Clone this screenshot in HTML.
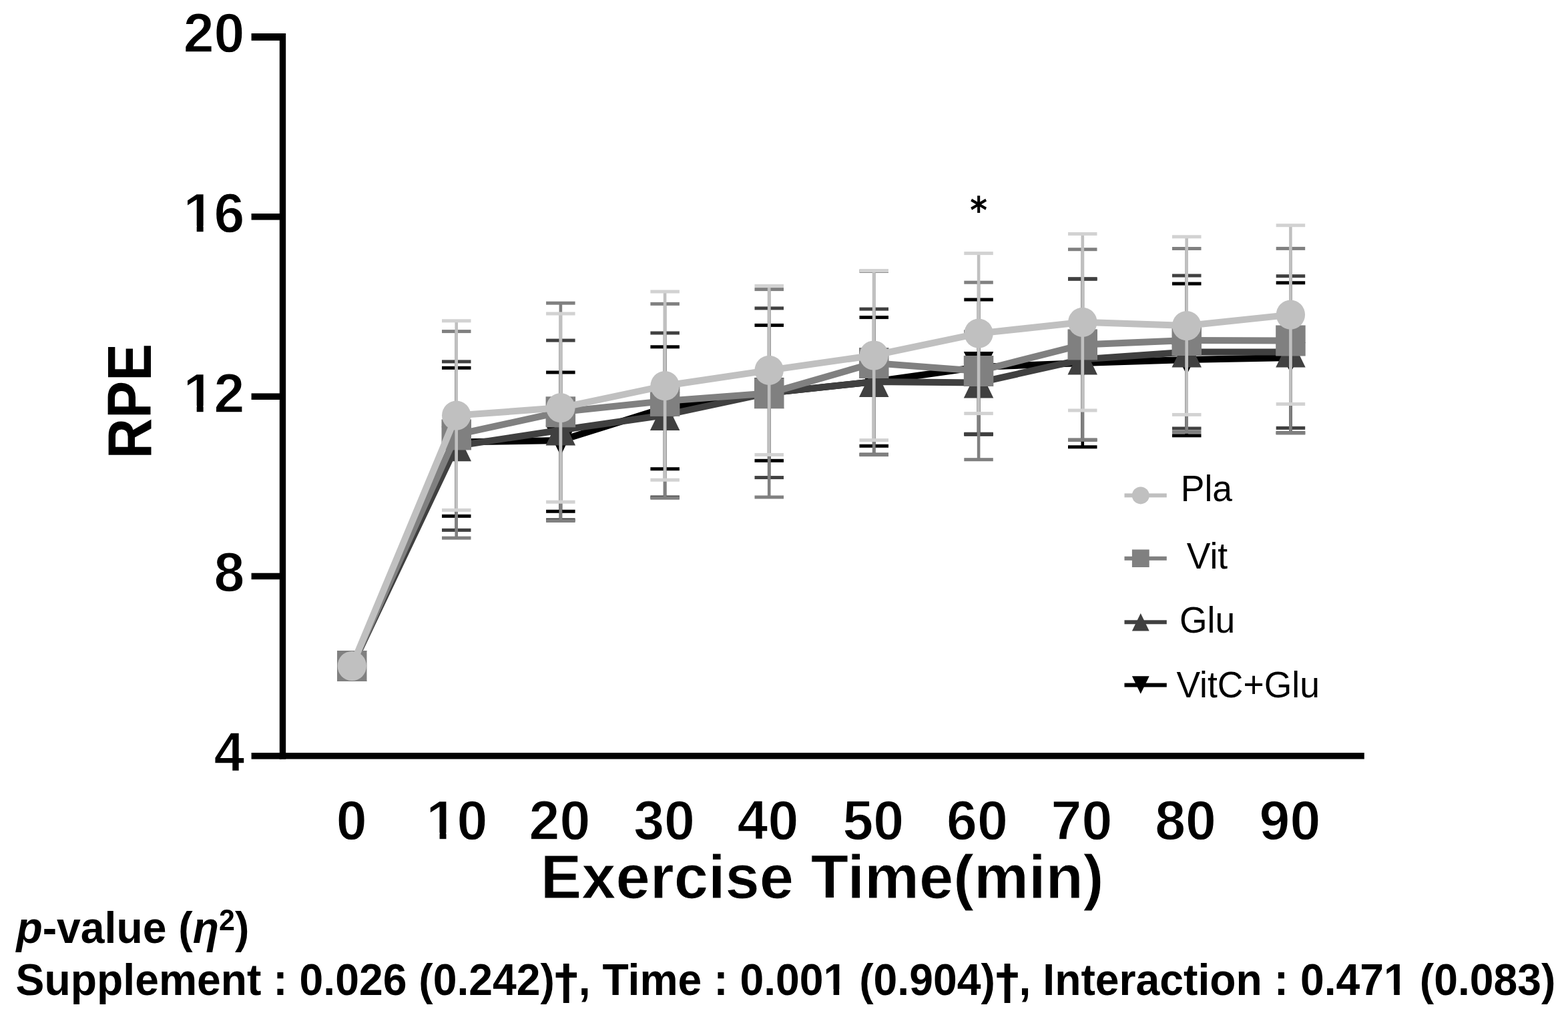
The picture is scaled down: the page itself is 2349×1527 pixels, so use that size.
<!DOCTYPE html>
<html><head><meta charset="utf-8"><title>RPE chart</title>
<style>
html,body{margin:0;padding:0;background:#fff;}
svg{display:block;}
text{font-family:"Liberation Sans",Arial,sans-serif;fill:#000;}
.b{font-weight:bold;}
.e1{stroke:#fff;stroke-width:1.3px;}
.e2{stroke:#fff;stroke-width:1.0px;}
.r{font-weight:normal;}
</style></head>
<body>
<svg width="2349" height="1527" viewBox="0 0 2349 1527">
<rect width="2349" height="1527" fill="#fff"/>
<rect x="418.8" y="50" width="9.4" height="1087.6" fill="#000"/>
<rect x="418.8" y="1128" width="1625" height="9.5" fill="#000"/>
<rect x="376.6" y="50" width="45" height="10.8" fill="#000"/>
<rect x="376.6" y="320" width="45" height="9.6" fill="#000"/>
<rect x="376.6" y="589.4" width="45" height="9.6" fill="#000"/>
<rect x="376.6" y="858.7" width="45" height="9.6" fill="#000"/>
<rect x="376.6" y="1128" width="45" height="9.6" fill="#000"/>
<g><text x="366.5" y="78.1" class="b e1" font-size="82.5" text-anchor="end">20</text></g>
<g><text x="366.5" y="348.3" class="b e1" font-size="82.5" text-anchor="end">16</text><rect x="278.43" y="338.38" width="16.26" height="11.42" fill="#fff"/><rect x="304.61" y="338.38" width="15.21" height="11.42" fill="#fff"/></g>
<g><text x="366.5" y="617.7" class="b e1" font-size="82.5" text-anchor="end">12</text><rect x="278.43" y="607.78" width="16.26" height="11.42" fill="#fff"/><rect x="304.61" y="607.78" width="15.21" height="11.42" fill="#fff"/></g>
<g><text x="366.5" y="886.4" class="b e1" font-size="82.5" text-anchor="end">8</text></g>
<g><text x="366.5" y="1156" class="b e1" font-size="82.5" text-anchor="end">4</text></g>
<g><text x="526.8" y="1257.6" class="b e1" font-size="82.5" text-anchor="middle">0</text></g>
<g><text x="684.5" y="1257.6" class="b e1" font-size="82.5" text-anchor="middle">10</text><rect x="642.31" y="1247.68" width="16.26" height="11.42" fill="#fff"/><rect x="668.49" y="1247.68" width="15.21" height="11.42" fill="#fff"/></g>
<g><text x="838.5" y="1257.6" class="b e1" font-size="82.5" text-anchor="middle">20</text></g>
<g><text x="995.1" y="1257.6" class="b e1" font-size="82.5" text-anchor="middle">30</text></g>
<g><text x="1150.4" y="1257.6" class="b e1" font-size="82.5" text-anchor="middle">40</text></g>
<g><text x="1308.3" y="1257.6" class="b e1" font-size="82.5" text-anchor="middle">50</text></g>
<g><text x="1463.9" y="1257.6" class="b e1" font-size="82.5" text-anchor="middle">60</text></g>
<g><text x="1620.4" y="1257.6" class="b e1" font-size="82.5" text-anchor="middle">70</text></g>
<g><text x="1776.1" y="1257.6" class="b e1" font-size="82.5" text-anchor="middle">80</text></g>
<g><text x="1932.4" y="1257.6" class="b e1" font-size="82.5" text-anchor="middle">90</text></g>
<text class="b" font-size="84" transform="translate(225.7,687.6) rotate(-90) scale(1,1.095)">RPE</text>
<text class="b e2" x="809.8" y="1345.5" font-size="92.2">Exercise Time(min)</text>
<line x1="683.7" y1="551.3" x2="683.7" y2="773.4" stroke="#000000" stroke-width="4.6"/>
<rect x="662" y="548.8" width="43.5" height="5" fill="#000000"/>
<rect x="662" y="770.9" width="43.5" height="5" fill="#000000"/>
<line x1="839.9" y1="558" x2="839.9" y2="766.3" stroke="#000000" stroke-width="4.6"/>
<rect x="818.1" y="555.5" width="43.5" height="5" fill="#000000"/>
<rect x="818.1" y="763.8" width="43.5" height="5" fill="#000000"/>
<line x1="996.1" y1="519.8" x2="996.1" y2="702.7" stroke="#000000" stroke-width="4.6"/>
<rect x="974.4" y="517.3" width="43.5" height="5" fill="#000000"/>
<rect x="974.4" y="700.2" width="43.5" height="5" fill="#000000"/>
<line x1="1152.2" y1="487.4" x2="1152.2" y2="690.3" stroke="#000000" stroke-width="4.6"/>
<rect x="1130.5" y="484.9" width="43.5" height="5" fill="#000000"/>
<rect x="1130.5" y="687.8" width="43.5" height="5" fill="#000000"/>
<line x1="1309.2" y1="475.6" x2="1309.2" y2="668.3" stroke="#000000" stroke-width="4.6"/>
<rect x="1287.5" y="473.1" width="43.5" height="5" fill="#000000"/>
<rect x="1287.5" y="665.8" width="43.5" height="5" fill="#000000"/>
<line x1="1466.1" y1="449" x2="1466.1" y2="651" stroke="#000000" stroke-width="4.6"/>
<rect x="1444.3" y="446.5" width="43.5" height="5" fill="#000000"/>
<rect x="1444.3" y="648.5" width="43.5" height="5" fill="#000000"/>
<line x1="1621.8" y1="418" x2="1621.8" y2="669.8" stroke="#000000" stroke-width="4.6"/>
<rect x="1600" y="415.5" width="43.5" height="5" fill="#000000"/>
<rect x="1600" y="667.3" width="43.5" height="5" fill="#000000"/>
<line x1="1777.7" y1="425.1" x2="1777.7" y2="652.8" stroke="#000000" stroke-width="4.6"/>
<rect x="1756" y="422.6" width="43.5" height="5" fill="#000000"/>
<rect x="1756" y="650.3" width="43.5" height="5" fill="#000000"/>
<line x1="1933.4" y1="423.8" x2="1933.4" y2="648.7" stroke="#000000" stroke-width="4.6"/>
<rect x="1911.7" y="421.3" width="43.5" height="5" fill="#000000"/>
<rect x="1911.7" y="646.2" width="43.5" height="5" fill="#000000"/>
<polyline points="527.3,998 683.7,662.4 839.9,660 996.1,611.2 1152.2,588.9 1309.2,572 1466.1,550 1621.8,544 1777.7,539 1933.4,536" fill="none" stroke="#000000" stroke-width="10" stroke-linejoin="miter"/>
<polygon points="505,975 549.5,975 527.3,1021" fill="#000000"/>
<polygon points="661.5,639.4 706,639.4 683.7,685.4" fill="#000000"/>
<polygon points="817.6,637 862.1,637 839.9,683" fill="#000000"/>
<polygon points="973.9,588.2 1018.4,588.2 996.1,634.2" fill="#000000"/>
<polygon points="1130,565.9 1174.5,565.9 1152.2,611.9" fill="#000000"/>
<polygon points="1287,549 1331.5,549 1309.2,595" fill="#000000"/>
<polygon points="1443.8,527 1488.3,527 1466.1,573" fill="#000000"/>
<polygon points="1599.5,521 1644,521 1621.8,567" fill="#000000"/>
<polygon points="1755.5,516 1800,516 1777.7,562" fill="#000000"/>
<polygon points="1911.2,513 1955.7,513 1933.4,559" fill="#000000"/>
<line x1="683.7" y1="541.9" x2="683.7" y2="794.4" stroke="#404040" stroke-width="4.6"/>
<rect x="662" y="539.4" width="43.5" height="5" fill="#404040"/>
<rect x="662" y="791.9" width="43.5" height="5" fill="#404040"/>
<line x1="839.9" y1="510.1" x2="839.9" y2="779" stroke="#404040" stroke-width="4.6"/>
<rect x="818.1" y="507.6" width="43.5" height="5" fill="#404040"/>
<rect x="818.1" y="776.5" width="43.5" height="5" fill="#404040"/>
<line x1="996.1" y1="499" x2="996.1" y2="745" stroke="#404040" stroke-width="4.6"/>
<rect x="974.4" y="496.5" width="43.5" height="5" fill="#404040"/>
<rect x="974.4" y="742.5" width="43.5" height="5" fill="#404040"/>
<line x1="1152.2" y1="461.9" x2="1152.2" y2="715.6" stroke="#404040" stroke-width="4.6"/>
<rect x="1130.5" y="459.4" width="43.5" height="5" fill="#404040"/>
<rect x="1130.5" y="713.1" width="43.5" height="5" fill="#404040"/>
<line x1="1309.2" y1="463.1" x2="1309.2" y2="681" stroke="#404040" stroke-width="4.6"/>
<rect x="1287.5" y="460.6" width="43.5" height="5" fill="#404040"/>
<rect x="1287.5" y="678.5" width="43.5" height="5" fill="#404040"/>
<line x1="1466.1" y1="497" x2="1466.1" y2="650.2" stroke="#404040" stroke-width="4.6"/>
<rect x="1444.3" y="494.5" width="43.5" height="5" fill="#404040"/>
<rect x="1444.3" y="647.7" width="43.5" height="5" fill="#404040"/>
<line x1="1621.8" y1="418" x2="1621.8" y2="659.2" stroke="#404040" stroke-width="4.6"/>
<rect x="1600" y="415.5" width="43.5" height="5" fill="#404040"/>
<rect x="1600" y="656.7" width="43.5" height="5" fill="#404040"/>
<line x1="1777.7" y1="413" x2="1777.7" y2="642" stroke="#404040" stroke-width="4.6"/>
<rect x="1756" y="410.5" width="43.5" height="5" fill="#404040"/>
<rect x="1756" y="639.5" width="43.5" height="5" fill="#404040"/>
<line x1="1933.4" y1="413.7" x2="1933.4" y2="641.4" stroke="#404040" stroke-width="4.6"/>
<rect x="1911.7" y="411.2" width="43.5" height="5" fill="#404040"/>
<rect x="1911.7" y="638.9" width="43.5" height="5" fill="#404040"/>
<polyline points="527.3,998 683.7,668.2 839.9,644.5 996.1,622 1152.2,588.7 1309.2,572 1466.1,573.5 1621.8,538.5 1777.7,527.5 1933.4,527.5" fill="none" stroke="#404040" stroke-width="10" stroke-linejoin="miter"/>
<polygon points="527.3,975 549.5,1021 505,1021" fill="#404040"/>
<polygon points="683.7,645.2 706,691.2 661.5,691.2" fill="#404040"/>
<polygon points="839.9,621.5 862.1,667.5 817.6,667.5" fill="#404040"/>
<polygon points="996.1,599 1018.4,645 973.9,645" fill="#404040"/>
<polygon points="1152.2,565.7 1174.5,611.7 1130,611.7" fill="#404040"/>
<polygon points="1309.2,549 1331.5,595 1287,595" fill="#404040"/>
<polygon points="1466.1,550.5 1488.3,596.5 1443.8,596.5" fill="#404040"/>
<polygon points="1621.8,515.5 1644,561.5 1599.5,561.5" fill="#404040"/>
<polygon points="1777.7,504.5 1800,550.5 1755.5,550.5" fill="#404040"/>
<polygon points="1933.4,504.5 1955.7,550.5 1911.2,550.5" fill="#404040"/>
<line x1="683.7" y1="496.6" x2="683.7" y2="806.2" stroke="#808080" stroke-width="4.6"/>
<rect x="662" y="494.1" width="43.5" height="5" fill="#808080"/>
<rect x="662" y="803.7" width="43.5" height="5" fill="#808080"/>
<line x1="839.9" y1="454.2" x2="839.9" y2="780.5" stroke="#808080" stroke-width="4.6"/>
<rect x="818.1" y="451.7" width="43.5" height="5" fill="#808080"/>
<rect x="818.1" y="778" width="43.5" height="5" fill="#808080"/>
<line x1="996.1" y1="455.4" x2="996.1" y2="746.3" stroke="#808080" stroke-width="4.6"/>
<rect x="974.4" y="452.9" width="43.5" height="5" fill="#808080"/>
<rect x="974.4" y="743.8" width="43.5" height="5" fill="#808080"/>
<line x1="1152.2" y1="433.6" x2="1152.2" y2="745" stroke="#808080" stroke-width="4.6"/>
<rect x="1130.5" y="431.1" width="43.5" height="5" fill="#808080"/>
<rect x="1130.5" y="742.5" width="43.5" height="5" fill="#808080"/>
<line x1="1309.2" y1="406.4" x2="1309.2" y2="681.6" stroke="#808080" stroke-width="4.6"/>
<rect x="1287.5" y="403.9" width="43.5" height="5" fill="#808080"/>
<rect x="1287.5" y="679.1" width="43.5" height="5" fill="#808080"/>
<line x1="1466.1" y1="423.2" x2="1466.1" y2="688.7" stroke="#808080" stroke-width="4.6"/>
<rect x="1444.3" y="420.7" width="43.5" height="5" fill="#808080"/>
<rect x="1444.3" y="686.2" width="43.5" height="5" fill="#808080"/>
<line x1="1621.8" y1="373.7" x2="1621.8" y2="659.2" stroke="#808080" stroke-width="4.6"/>
<rect x="1600" y="371.2" width="43.5" height="5" fill="#808080"/>
<rect x="1600" y="656.7" width="43.5" height="5" fill="#808080"/>
<line x1="1777.7" y1="372.5" x2="1777.7" y2="647.4" stroke="#808080" stroke-width="4.6"/>
<rect x="1756" y="370" width="43.5" height="5" fill="#808080"/>
<rect x="1756" y="644.9" width="43.5" height="5" fill="#808080"/>
<line x1="1933.4" y1="372.4" x2="1933.4" y2="648.7" stroke="#808080" stroke-width="4.6"/>
<rect x="1911.7" y="369.9" width="43.5" height="5" fill="#808080"/>
<rect x="1911.7" y="646.2" width="43.5" height="5" fill="#808080"/>
<polyline points="527.3,998 683.7,651.4 839.9,617.3 996.1,600.9 1152.2,589.3 1309.2,544 1466.1,556 1621.8,516.4 1777.7,510 1933.4,510.5" fill="none" stroke="#808080" stroke-width="10" stroke-linejoin="miter"/>
<rect x="505" y="975" width="44.5" height="46" fill="#808080"/>
<rect x="661.5" y="628.4" width="44.5" height="46" fill="#808080"/>
<rect x="817.6" y="594.3" width="44.5" height="46" fill="#808080"/>
<rect x="973.9" y="577.9" width="44.5" height="46" fill="#808080"/>
<rect x="1130" y="566.3" width="44.5" height="46" fill="#808080"/>
<rect x="1287" y="521" width="44.5" height="46" fill="#808080"/>
<rect x="1443.8" y="533" width="44.5" height="46" fill="#808080"/>
<rect x="1599.5" y="493.4" width="44.5" height="46" fill="#808080"/>
<rect x="1755.5" y="487" width="44.5" height="46" fill="#808080"/>
<rect x="1911.2" y="487.5" width="44.5" height="46" fill="#808080"/>
<line x1="683.7" y1="480.8" x2="683.7" y2="764.4" stroke="#c0c0c0" stroke-width="4.6"/>
<rect x="662" y="478.3" width="43.5" height="5" fill="#d2d2d2"/>
<rect x="662" y="761.9" width="43.5" height="5" fill="#d2d2d2"/>
<line x1="839.9" y1="470" x2="839.9" y2="752.2" stroke="#c0c0c0" stroke-width="4.6"/>
<rect x="818.1" y="467.5" width="43.5" height="5" fill="#d2d2d2"/>
<rect x="818.1" y="749.7" width="43.5" height="5" fill="#d2d2d2"/>
<line x1="996.1" y1="437" x2="996.1" y2="719.2" stroke="#c0c0c0" stroke-width="4.6"/>
<rect x="974.4" y="434.5" width="43.5" height="5" fill="#d2d2d2"/>
<rect x="974.4" y="716.7" width="43.5" height="5" fill="#d2d2d2"/>
<line x1="1152.2" y1="428.4" x2="1152.2" y2="681.4" stroke="#c0c0c0" stroke-width="4.6"/>
<rect x="1130.5" y="425.9" width="43.5" height="5" fill="#d2d2d2"/>
<rect x="1130.5" y="678.9" width="43.5" height="5" fill="#d2d2d2"/>
<line x1="1309.2" y1="405.5" x2="1309.2" y2="659.6" stroke="#c0c0c0" stroke-width="4.6"/>
<rect x="1287.5" y="403" width="43.5" height="5" fill="#d2d2d2"/>
<rect x="1287.5" y="657.1" width="43.5" height="5" fill="#d2d2d2"/>
<line x1="1466.1" y1="379.6" x2="1466.1" y2="619.6" stroke="#c0c0c0" stroke-width="4.6"/>
<rect x="1444.3" y="377.1" width="43.5" height="5" fill="#d2d2d2"/>
<rect x="1444.3" y="617.1" width="43.5" height="5" fill="#d2d2d2"/>
<line x1="1621.8" y1="350.5" x2="1621.8" y2="615" stroke="#c0c0c0" stroke-width="4.6"/>
<rect x="1600" y="348" width="43.5" height="5" fill="#d2d2d2"/>
<rect x="1600" y="612.5" width="43.5" height="5" fill="#d2d2d2"/>
<line x1="1777.7" y1="354.8" x2="1777.7" y2="621.4" stroke="#c0c0c0" stroke-width="4.6"/>
<rect x="1756" y="352.3" width="43.5" height="5" fill="#d2d2d2"/>
<rect x="1756" y="618.9" width="43.5" height="5" fill="#d2d2d2"/>
<line x1="1933.4" y1="337.7" x2="1933.4" y2="605.5" stroke="#c0c0c0" stroke-width="4.6"/>
<rect x="1911.7" y="335.2" width="43.5" height="5" fill="#d2d2d2"/>
<rect x="1911.7" y="603" width="43.5" height="5" fill="#d2d2d2"/>
<polyline points="527.3,998 683.7,622.6 839.9,611.1 996.1,578.1 1152.2,554.9 1309.2,532.5 1466.1,499.6 1621.8,482.8 1777.7,488.1 1933.4,471.6" fill="none" stroke="#c0c0c0" stroke-width="10" stroke-linejoin="miter"/>
<ellipse cx="527.3" cy="998" rx="21.7" ry="22.1" fill="#c0c0c0"/>
<ellipse cx="683.7" cy="622.6" rx="21.7" ry="22.1" fill="#c0c0c0"/>
<ellipse cx="839.9" cy="611.1" rx="21.7" ry="22.1" fill="#c0c0c0"/>
<ellipse cx="996.1" cy="578.1" rx="21.7" ry="22.1" fill="#c0c0c0"/>
<ellipse cx="1152.2" cy="554.9" rx="21.7" ry="22.1" fill="#c0c0c0"/>
<ellipse cx="1309.2" cy="532.5" rx="21.7" ry="22.1" fill="#c0c0c0"/>
<ellipse cx="1466.1" cy="499.6" rx="21.7" ry="22.1" fill="#c0c0c0"/>
<ellipse cx="1621.8" cy="482.8" rx="21.7" ry="22.1" fill="#c0c0c0"/>
<ellipse cx="1777.7" cy="488.1" rx="21.7" ry="22.1" fill="#c0c0c0"/>
<ellipse cx="1933.4" cy="471.6" rx="21.7" ry="22.1" fill="#c0c0c0"/>
<text font-family="DejaVu Sans" font-weight="bold" font-size="56" text-anchor="middle" transform="translate(1466.1,333.5) scale(0.88,1)" style="font-family:'DejaVu Sans',sans-serif">*</text>
<rect x="1684.5" y="739.4" width="63.3" height="6" fill="#c0c0c0"/>
<circle cx="1708.8" cy="742.4" r="13" fill="#c0c0c0"/>
<text class="r" font-size="53.5" transform="translate(1768.8,751.4) scale(1,1.045)">Pla</text>
<rect x="1684.5" y="833.8" width="63.3" height="6" fill="#808080"/>
<rect x="1695.9" y="823.5" width="25.8" height="26.5" fill="#808080"/>
<text class="r" font-size="53.5" transform="translate(1777.7,852.1) scale(1,1.045)">Vit</text>
<rect x="1684.5" y="929.3" width="63.3" height="6" fill="#404040"/>
<polygon points="1708.8,919 1721.7,945.5 1695.9,945.5" fill="#404040"/>
<text class="r" font-size="53.5" transform="translate(1766.9,947.6) scale(1,1.045)">Glu</text>
<rect x="1684.5" y="1023.6" width="63.3" height="6" fill="#000000"/>
<polygon points="1695.9,1013.3 1721.7,1013.3 1708.8,1039.8" fill="#000000"/>
<text class="r" font-size="53.5" transform="translate(1762.4,1045.4) scale(1,1.045)">VitC+Glu</text>
<text class="b" font-size="64.3" transform="translate(24.4,1413.3) scale(1,1.028)"><tspan font-style="italic">p</tspan>-value (<tspan font-style="italic">η</tspan><tspan font-size="43" dy="-18.5">2</tspan><tspan dy="18.5">)</tspan></text>
<g transform="translate(23.6,1490.8) scale(1,1.028)"><text class="b" font-size="64.3">Supplement : 0.026 (0.242)<tspan font-family="DejaVu Sans Mono" font-size="70" style="stroke:none;font-family:'DejaVu Sans Mono',monospace" x="803.7" y="5">†</tspan><tspan x="843.11" y="0">, Time : 0.001 (0.904)</tspan><tspan font-family="DejaVu Sans Mono" font-size="70" style="stroke:none;font-family:'DejaVu Sans Mono',monospace" x="1464.3" y="5">†</tspan><tspan x="1502.97" y="0">, Interaction : 0.471 (0.083)</tspan></text><rect x="1212.47" y="-8.06" width="12.61" height="9.56" fill="#fff"/><rect x="1233.60" y="-8.06" width="11.79" height="9.56" fill="#fff"/><rect x="2052.07" y="-8.06" width="12.61" height="9.56" fill="#fff"/><rect x="2073.20" y="-8.06" width="11.79" height="9.56" fill="#fff"/></g>
</svg>
</body></html>
